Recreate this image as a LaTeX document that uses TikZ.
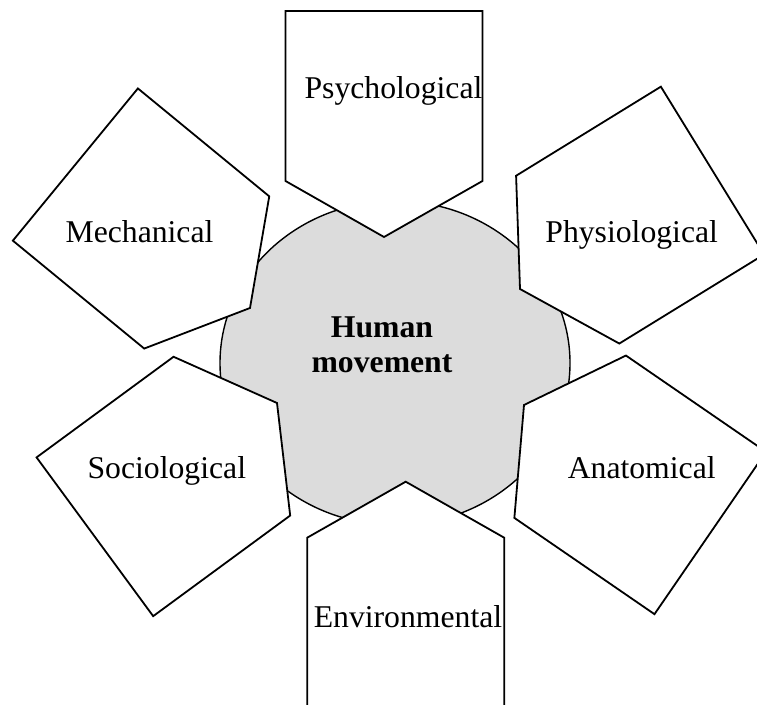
\documentclass[tikz,border=0pt]{standalone}
\usepackage{fontspec}
\setmainfont{Liberation Serif}
\definecolor{hubgray}{HTML}{DCDCDC}

\begin{document}
\begin{tikzpicture}[x=1pt,y=1pt,
    facet/.style={draw,fill=white,line width=1.8pt},
    lbl/.style={font=\fontsize{31.7}{35}\selectfont,anchor=base}]
    \clip (0,0) rectangle (757,704);
    \fill[white] (0,0) rectangle (757,704);

    % hub
    \draw[fill=hubgray,line width=1.4pt] (395,341) ellipse [x radius=175pt, y radius=162pt];

    % facets: tip point / direction of tip
    \foreach \tx/\ty/\ang in {384/467/-90, 250/396/-39.4, 520/415/211.6,
                              277/301/36.3, 524/299/145.5, 405.7/222.3/90}
        \draw[facet,shift={(\tx,\ty)},rotate=\ang]
            (0,0)--(-56,98.5)--(-226,98.5)--(-226,-98.5)--(-56,-98.5)--cycle;

    \node[lbl,font=\fontsize{31.7}{35}\selectfont\bfseries,align=center,anchor=center] (hub) at (382,359) {Human\\movement};
    \node[lbl] (psy) at (393.5,605) {Psychological};
    \node[lbl] (mech) at (139.5,461.3) {Mechanical};
    \node[lbl] (phys) at (631.7,461.7) {Physiological};
    \node[lbl] (soc) at (166.8,225.7) {Sociological};
    \node[lbl] (anat) at (641.7,225.7) {Anatomical};
    \node[lbl] (env) at (408,76.7) {Environmental};
\end{tikzpicture}
\end{document}
